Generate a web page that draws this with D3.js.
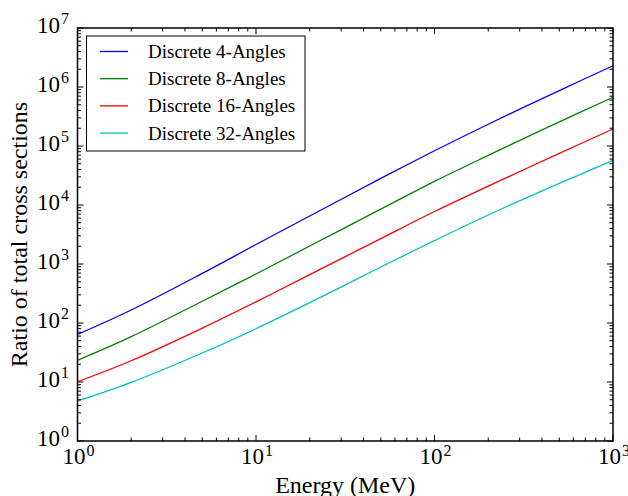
<!DOCTYPE html>
<html>
<head>
<meta charset="utf-8">
<script src="https://cdn.jsdelivr.net/npm/d3@7"></script>
<style>
  body { margin: 0; background: #fff; }
  svg { display: block; }
</style>
</head>
<body>
<script>
// Energy values (MeV)
const energy = [1, 2, 5, 10, 20, 50, 100, 200, 500, 1000];

// Ratio of total cross sections, one array per angular discretization
const angles4 = [64, 166, 693, 2140, 6500, 28200, 83000, 234000, 871000, 2290000];
const angles8 = [23.3, 58.6, 234, 678, 2020, 8500, 25100, 69200, 257000, 670000];
const angles16 = [10.1, 22.9, 81.7, 228, 661, 2690, 7760, 20900, 75000, 194000];
const angles32 = [4.76, 9.86, 31, 80, 221, 889, 2490, 6770, 23200, 57000];

const seriesNames = ["Discrete 4-Angles", "Discrete 8-Angles", "Discrete 16-Angles", "Discrete 32-Angles"];
const seriesColors = ["#0000ff", "#008000", "#ff0000", "#00bfbf"];
const seriesValues = [angles4, angles8, angles16, angles32];

const xTickExps = [0, 1, 2, 3];
const yTickExps = [0, 1, 2, 3, 4, 5, 6, 7];

const width = 628, height = 496;
const margin = { top: 28, right: 15, bottom: 55, left: 77.5 };
const font = "Liberation Serif";

const svg = d3.select("body").append("svg")
    .attr("width", width)
    .attr("height", height)
    .attr("font-family", font);

const x = d3.scaleLog().domain([1, 1000]).range([margin.left, width - margin.right]);
const y = d3.scaleLog().domain([1, 1e7]).range([height - margin.bottom, margin.top]);

// Lines
const line = d3.line()
    .x(d => x(d[0]))
    .y(d => y(d[1]))
    .curve(d3.curveCatmullRom.alpha(0.5));

const plot = svg.append("g");
seriesValues.forEach((vals, i) => {
    plot.append("path")
        .datum(energy.map((e, j) => [e, vals[j]]))
        .attr("fill", "none")
        .attr("stroke", seriesColors[i])
        .attr("stroke-width", 1.3)
        .attr("d", line);
});

// Ticks (inward, on all four sides)
const majorLen = 6, minorLen = 3.5;
const xMinor = [], yMinor = [];
for (let e = 0; e < 3; e++) for (let k = 2; k <= 9; k++) xMinor.push(k * Math.pow(10, e));
for (let e = 0; e < 7; e++) for (let k = 2; k <= 9; k++) yMinor.push(k * Math.pow(10, e));

const ticks = svg.append("g").attr("stroke", "#000").attr("stroke-width", 1);
const x0 = x.range()[0], x1 = x.range()[1];
const y0 = y.range()[0], y1 = y.range()[1];

function xTick(v, len) {
    const px = x(v);
    ticks.append("line").attr("x1", px).attr("x2", px).attr("y1", y0).attr("y2", y0 - len);
    ticks.append("line").attr("x1", px).attr("x2", px).attr("y1", y1).attr("y2", y1 + len);
}
function yTick(v, len) {
    const py = y(v);
    ticks.append("line").attr("y1", py).attr("y2", py).attr("x1", x0).attr("x2", x0 + len);
    ticks.append("line").attr("y1", py).attr("y2", py).attr("x1", x1).attr("x2", x1 - len);
}
xTickExps.forEach(e => xTick(Math.pow(10, e), majorLen));
xMinor.forEach(v => xTick(v, minorLen));
yTickExps.forEach(e => yTick(Math.pow(10, e), majorLen));
yMinor.forEach(v => yTick(v, minorLen));

// Frame
svg.append("rect")
    .attr("x", x0).attr("y", y1)
    .attr("width", x1 - x0).attr("height", y0 - y1)
    .attr("fill", "none")
    .attr("stroke", "#000")
    .attr("stroke-width", 1.5);

// Tick labels
function powLabel(sel, exp) {
    sel.append("tspan").text("10");
    sel.append("tspan").attr("dx", 1).attr("dy", -8.5).attr("font-size", 16).text(exp);
}
xTickExps.forEach(e => {
    const t = svg.append("text")
        .attr("x", x(Math.pow(10, e)) + 1)
        .attr("y", y0 + 23)
        .attr("text-anchor", "middle")
        .attr("font-size", 23);
    powLabel(t, e);
});
yTickExps.forEach(e => {
    const t = svg.append("text")
        .attr("x", x0 - 8.5)
        .attr("y", y(Math.pow(10, e)) + 4.5)
        .attr("text-anchor", "end")
        .attr("font-size", 23);
    powLabel(t, e);
});

// Axis titles
svg.append("text")
    .attr("x", (x0 + x1) / 2)
    .attr("y", 493)
    .attr("text-anchor", "middle")
    .attr("font-size", 24)
    .text("Energy (MeV)");

svg.append("text")
    .attr("transform", `translate(27, ${(y0 + y1) / 2}) rotate(-90)`)
    .attr("text-anchor", "middle")
    .attr("font-size", 24)
    .text("Ratio of total cross sections");

// Legend
const legend = svg.append("g").attr("transform", "translate(86.5, 36)");
legend.append("rect")
    .attr("width", 218.5).attr("height", 115)
    .attr("fill", "#fff")
    .attr("stroke", "#000")
    .attr("stroke-width", 1);
seriesNames.forEach((name, i) => {
    const ly = 15.5 + i * 27.2;
    legend.append("line")
        .attr("x1", 13.5).attr("x2", 41.5)
        .attr("y1", ly).attr("y2", ly)
        .attr("stroke", seriesColors[i])
        .attr("stroke-width", 1.3);
    legend.append("text")
        .attr("x", 61.5).attr("y", ly + 6.5)
        .attr("font-size", 19)
        .text(name);
});
</script>
</body>
</html>
